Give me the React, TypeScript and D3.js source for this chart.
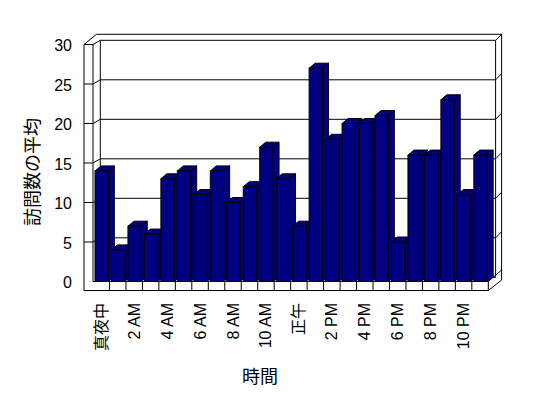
import React from "react";
import * as d3 from "d3";

const categories = [
  "真夜中", "1 AM", "2 AM", "3 AM", "4 AM", "5 AM", "6 AM", "7 AM", "8 AM", "9 AM", "10 AM", "11 AM",
  "正午", "1 PM", "2 PM", "3 PM", "4 PM", "5 PM", "6 PM", "7 PM", "8 PM", "9 PM", "10 PM", "11 PM",
];
const visits = [14, 4, 7, 6, 13, 14, 11, 14, 10, 12, 17, 13, 7, 27, 18, 20, 20, 21, 5, 16, 16, 23, 11, 16];
const yTicks = [0, 5, 10, 15, 20, 25, 30];
const xTitle = "時間";
const yTitle = "訪問数の平均";

const W = 548;
const H = 398;
const FONT = "'Liberation Sans', Arial, 'Noto Sans CJK JP', sans-serif";
const NAVY = "#000080";

export default function App() {
  const x = d3.scaleBand<string>().domain(categories).range([93, 488.3]).paddingInner(0).paddingOuter(0);
  const y = d3.scaleLinear().domain([0, 30]).range([281.5, 44.5]);
  const bw = x.bandwidth();
  const BACK_DX = 7.3, BACK_DY = -4.2, WALL = 6;
  const BAR_DX = 6, BAR_DY = -5;
  const xL = 93, xR = 488.3, y0 = y(0);
  const bxL = xL + BACK_DX, bxR = xR + BACK_DX;
  const byTop = y(30) + BACK_DY;
  const outerTop = byTop - WALL;

  const outer = [
    [84, y0 + 9], [84, y(30)], [96.5, outerTop], [bxR + WALL, outerTop], [bxR + WALL, y0 - 1.5], [xR, y0 + 9],
  ].map((p) => p.join(",")).join(" ");

  return (
    <div style={{ position: "fixed", left: 0, top: 0 }}>
      <svg width={W} height={H} style={{ display: "block", background: "#fff" }} fontFamily={FONT}>
        <rect width={W} height={H} fill="#fff" />
        <polygon points={outer} fill="#fff" stroke="#000" strokeWidth={1} />
        {/* inner wall edges */}
        <path
          d={`M${xL},${y0} V${y(30)} L${bxL},${byTop} H${bxR} V${y0 + BACK_DY} H${bxL} V${byTop}`}
          fill="none" stroke="#000" />
        <path d={`M84,${y(30)} H${xL}`} stroke="#000" />
        <path d={`M${bxR},${byTop} L${bxR + WALL},${outerTop}`} stroke="#000" />
        {/* floor */}
        <path d={`M${xL},${y0} H${xR} L${bxR + WALL},${y0 + BACK_DY - 7.3}`} fill="none" stroke="#000" />
        {categories.slice(1).map((c) => (
          <line key={"fd" + c} x1={x(c)} x2={x(c)} y1={y0} y2={y0 + 9} stroke="#000" />
        ))}
        <line x1={xR} x2={xR} y1={y0} y2={y0 + 9} stroke="#000" />
        {/* gridlines and wall ticks */}
        {yTicks.filter((v) => v > 0 && v < 30).map((v) => (
          <path key={"g" + v}
            d={`M84,${y(v)} H${xL} L${bxL},${y(v) + BACK_DY} H${bxR} L${bxR + WALL},${y(v) + BACK_DY - WALL}`}
            fill="none" stroke="#000" />
        ))}
        {/* bars */}
        {categories.map((c, i) => {
          const v = visits[i];
          const x0 = (x(c) as number) + 2;
          const x1 = x0 + bw * 0.81;
          const yt = y(v);
          const side = `${x1},${y0} ${x1},${yt} ${x1 + BAR_DX},${yt + BAR_DY} ${x1 + BAR_DX},${y0 + BAR_DY}`;
          const top = `${x0},${yt} ${x0 + BAR_DX},${yt + BAR_DY} ${x1 + BAR_DX},${yt + BAR_DY} ${x1},${yt}`;
          return (
            <g key={"b" + c} stroke="#000" strokeWidth={1} strokeLinejoin="miter">
              <polygon points={side} fill={NAVY} />
              <polygon points={top} fill={NAVY} />
              <rect x={x0} y={yt} width={x1 - x0} height={y0 - yt} fill={NAVY} />
            </g>
          );
        })}
        {/* y tick labels */}
        {yTicks.map((v) => (
          <text key={"yl" + v} x={72} y={y(v) + 1} textAnchor="end" dominantBaseline="central" fontSize={16}>
            {v}
          </text>
        ))}
        {/* x tick labels */}
        {categories.map((c, i) =>
          i % 2 === 0 ? (
            <text key={"xl" + c}
              transform={`translate(${(x(c) as number) + bw / 2},303) rotate(-90)`}
              textAnchor="end" dominantBaseline="central" fontSize={16}>
              {c}
            </text>
          ) : null
        )}
        <text x={260} y={377} textAnchor="middle" dominantBaseline="central" fontSize={18}>{xTitle}</text>
        <text transform="translate(33,172) rotate(-90)" textAnchor="middle" dominantBaseline="central" fontSize={18}>
          {yTitle}
        </text>
      </svg>
    </div>
  );
}
